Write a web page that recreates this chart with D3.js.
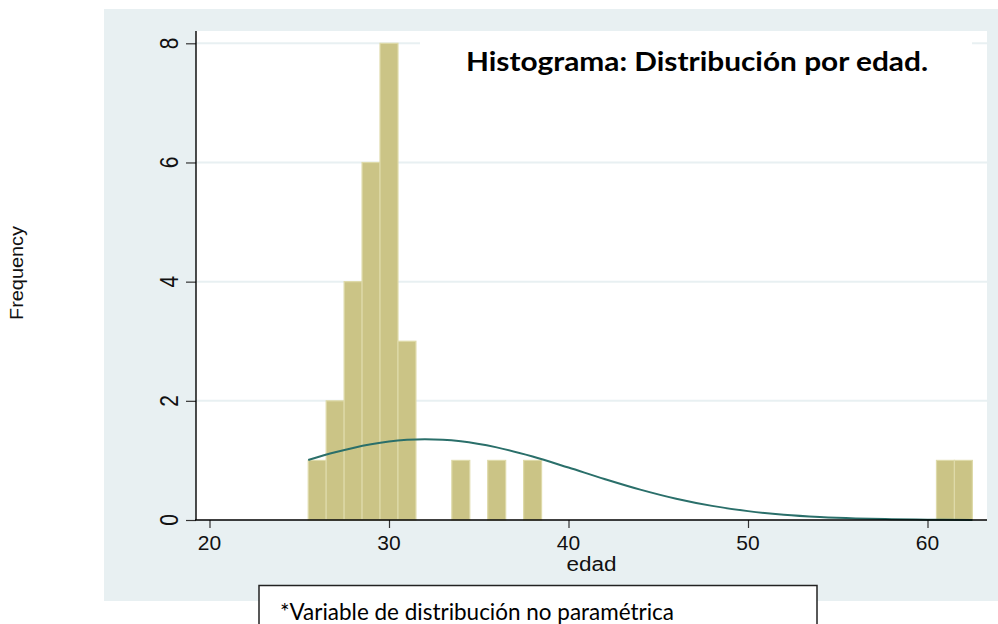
<!DOCTYPE html>
<html>
<head>
<meta charset="utf-8">
<script src="https://cdn.jsdelivr.net/npm/d3@7/dist/d3.min.js"></script>
<style>
  html, body { margin: 0; padding: 0; background: #ffffff; }
  svg { display: block; }
</style>
</head>
<body>
<svg id="chart" width="998" height="624"></svg>
<script>
// Age values (discrete bins of width 1) and their frequencies
const ages = [26, 27, 28, 29, 30, 31, 34, 36, 38, 61, 62];
const freqs = [1, 2, 4, 6, 8, 3, 1, 1, 1, 1, 1];

// Overlaid normal density curve (scaled to frequency)
const curveAge = [25.5, 27, 28, 29, 30, 31, 32, 33, 34, 36, 38, 40, 42, 44, 46, 48, 50, 52, 54, 56, 58, 60, 62.5];
const curveFreq = [1.007, 1.137, 1.210, 1.271, 1.317, 1.345, 1.356, 1.348, 1.322, 1.219, 1.065, 0.880, 0.689, 0.510, 0.357, 0.237, 0.149, 0.088, 0.050, 0.026, 0.013, 0.006, 0.002];

// Axis ticks
const xTicks = [20, 30, 40, 50, 60];
const yTicks = [0, 2, 4, 6, 8];

const titleText = "Histograma: Distribución por edad.";
const noteText = "*Variable de distribución no paramétrica";
const xLabel = "edad";
const yLabel = "Frequency";

const svg = d3.select("#chart");

const plot = { left: 196, right: 987, top: 31, bottom: 520 };
const x = d3.scaleLinear().domain([20, 60]).range([209.5, 927.5]);
const y = d3.scaleLinear().domain([0, 8]).range([520, 43.3]);

// Outer graph region
svg.append("rect")
  .attr("x", 104).attr("y", 9)
  .attr("width", 998 - 104).attr("height", 601 - 9)
  .attr("fill", "#e8f0f2");

// Plot region
svg.append("rect")
  .attr("x", plot.left).attr("y", plot.top)
  .attr("width", plot.right - plot.left).attr("height", plot.bottom - plot.top)
  .attr("fill", "#ffffff");

// Horizontal grid lines
svg.append("g")
  .selectAll("line")
  .data(yTicks.filter(d => d > 0))
  .join("line")
  .attr("x1", plot.left).attr("x2", plot.right)
  .attr("y1", d => y(d)).attr("y2", d => y(d))
  .attr("stroke", "#e8f0f2")
  .attr("stroke-width", 2);

// Bars
svg.append("g")
  .selectAll("rect")
  .data(ages.map((a, i) => ({ age: a, n: freqs[i] })))
  .join("rect")
  .attr("x", d => x(d.age - 0.5))
  .attr("width", d => x(d.age + 0.5) - x(d.age - 0.5))
  .attr("y", d => y(d.n))
  .attr("height", d => y(0) - y(d.n))
  .attr("fill", "#cbc486")
  .attr("stroke", "#dedaa9")
  .attr("stroke-width", 1.2);

// Normal curve
const line = d3.line()
  .x((d, i) => x(curveAge[i]))
  .y(d => y(d))
  .curve(d3.curveMonotoneX);

svg.append("path")
  .datum(curveFreq)
  .attr("d", line)
  .attr("fill", "none")
  .attr("stroke", "#2a6f6a")
  .attr("stroke-width", 2);

// Y axis
const yAxis = d3.axisLeft(y).tickValues(yTicks).tickSize(10).tickFormat("");
const gy = svg.append("g")
  .attr("transform", `translate(${plot.left},0)`)
  .call(yAxis);
gy.select(".domain").remove();
gy.selectAll(".tick line").attr("stroke", "#333").attr("stroke-width", 1.2);
svg.append("line")
  .attr("x1", plot.left).attr("x2", plot.left)
  .attr("y1", plot.top).attr("y2", plot.bottom)
  .attr("stroke", "#000").attr("stroke-width", 1.4);

// Rotated y tick labels
svg.append("g")
  .selectAll("text")
  .data(yTicks)
  .join("text")
  .attr("transform", d => `translate(178,${y(d)}) rotate(-90) scale(1,1.22)`)
  .attr("text-anchor", "middle")
  .attr("font-family", "Liberation Sans, Arial, sans-serif")
  .attr("font-size", 21)
  .attr("fill", "#111")
  .text(d => d);

// X axis
const xAxis = d3.axisBottom(x).tickValues(xTicks).tickSize(8).tickFormat("");
const gx = svg.append("g")
  .attr("transform", `translate(0,${plot.bottom})`)
  .call(xAxis);
gx.select(".domain").remove();
gx.selectAll(".tick line").attr("stroke", "#333").attr("stroke-width", 1.2);
svg.append("line")
  .attr("x1", plot.left - 1).attr("x2", plot.right)
  .attr("y1", plot.bottom).attr("y2", plot.bottom)
  .attr("stroke", "#000").attr("stroke-width", 1.4);

svg.append("g")
  .selectAll("text")
  .data(xTicks)
  .join("text")
  .attr("x", d => x(d))
  .attr("y", 550)
  .attr("text-anchor", "middle")
  .attr("font-family", "Liberation Sans, Arial, sans-serif")
  .attr("font-size", 21)
  .attr("fill", "#111")
  .text(d => d);

// Axis titles
svg.append("text")
  .attr("x", (plot.left + plot.right) / 2)
  .attr("y", 571)
  .attr("text-anchor", "middle")
  .attr("font-family", "Liberation Sans, Arial, sans-serif")
  .attr("font-size", 20)
  .attr("fill", "#111")
  .attr("textLength", 50)
  .attr("lengthAdjust", "spacingAndGlyphs")
  .text(xLabel);

svg.append("text")
  .attr("transform", "translate(23,273) rotate(-90)")
  .attr("text-anchor", "middle")
  .attr("font-family", "Liberation Sans, Arial, sans-serif")
  .attr("font-size", 18)
  .attr("fill", "#111")
  .attr("textLength", 94)
  .attr("lengthAdjust", "spacingAndGlyphs")
  .text(yLabel);

// Title block
svg.append("rect")
  .attr("x", 420).attr("y", plot.top + 1)
  .attr("width", 972 - 420).attr("height", 68)
  .attr("fill", "#ffffff");

svg.append("text")
  .attr("x", 466)
  .attr("y", 71)
  .attr("font-family", "Lato, 'Open Sans', sans-serif")
  .attr("font-weight", "bold")
  .attr("font-size", 26)
  .attr("fill", "#000")
  .attr("textLength", 462)
  .attr("lengthAdjust", "spacingAndGlyphs")
  .text(titleText);

// Note box
svg.append("rect")
  .attr("x", 259).attr("y", 585.5)
  .attr("width", 817 - 259).attr("height", 60)
  .attr("fill", "#ffffff")
  .attr("stroke", "#222")
  .attr("stroke-width", 1.5);

svg.append("text")
  .attr("x", 280)
  .attr("y", 620)
  .attr("font-family", "Lato, 'Open Sans', sans-serif")
  .attr("font-size", 23)
  .attr("fill", "#000")
  .attr("textLength", 394)
  .attr("lengthAdjust", "spacingAndGlyphs")
  .text(noteText);
</script>
</body>
</html>
